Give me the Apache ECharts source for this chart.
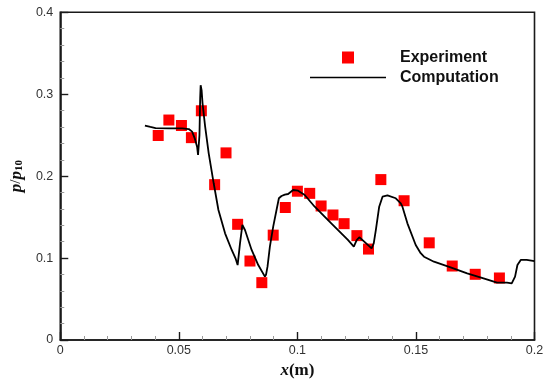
<!DOCTYPE html>
<html>
<head>
<meta charset="utf-8">
<script src="https://cdn.jsdelivr.net/npm/echarts@6/dist/echarts.min.js"></script>
<style>html,body{margin:0;padding:0;background:#fff;}#c{width:550px;height:391px;}</style>
</head>
<body>
<div id="c"></div>
<script>
// Experiment (squares)
var expX = [0.0413, 0.0458, 0.0511, 0.0553, 0.0595, 0.0651, 0.0699, 0.0748, 0.0800, 0.0850, 0.0898, 0.0949, 0.1000, 0.1052, 0.1100, 0.1150, 0.1197, 0.1251, 0.1300, 0.1352, 0.1450, 0.1556, 0.1653, 0.1750, 0.1852];
var expY = [0.2496, 0.2685, 0.2618, 0.2470, 0.2798, 0.1896, 0.2284, 0.1412, 0.0964, 0.0700, 0.1280, 0.1617, 0.1816, 0.1790, 0.1636, 0.1526, 0.1420, 0.1274, 0.1110, 0.1958, 0.1700, 0.1186, 0.0903, 0.0802, 0.0757];
// Computation (line)
var compX = [0.0357, 0.0380, 0.0402, 0.0460, 0.0514, 0.0542, 0.0556, 0.0563, 0.0567, 0.0577, 0.0581, 0.0584, 0.0587, 0.0590, 0.0592, 0.0596, 0.0600, 0.0611, 0.0626, 0.0647, 0.0667, 0.0695, 0.0723, 0.0740, 0.0748, 0.0752, 0.0758, 0.0768, 0.0779, 0.0807, 0.0835, 0.0863, 0.0868, 0.0874, 0.0884, 0.0898, 0.0912, 0.0922, 0.0933, 0.0947, 0.0961, 0.0982, 0.1003, 0.1031, 0.1073, 0.1143, 0.1213, 0.1238, 0.1250, 0.1261, 0.1282, 0.1313, 0.1322, 0.1331, 0.1345, 0.1359, 0.1380, 0.1415, 0.1436, 0.1443, 0.1464, 0.1499, 0.1520, 0.1534, 0.1576, 0.1646, 0.1716, 0.1785, 0.1842, 0.1884, 0.1904, 0.1918, 0.1928, 0.1942, 0.1967, 0.2000];
var compY = [0.2616, 0.2600, 0.2586, 0.2584, 0.2584, 0.2575, 0.2543, 0.2523, 0.2462, 0.2360, 0.2258, 0.2246, 0.2500, 0.2950, 0.3110, 0.3050, 0.2889, 0.2604, 0.2279, 0.1913, 0.1587, 0.1302, 0.1099, 0.0990, 0.0915, 0.0920, 0.1180, 0.1404, 0.1343, 0.1099, 0.0915, 0.0773, 0.0800, 0.0895, 0.1139, 0.1383, 0.1587, 0.1730, 0.1758, 0.1775, 0.1782, 0.1831, 0.1823, 0.1770, 0.1627, 0.1424, 0.1221, 0.1139, 0.1220, 0.1254, 0.1200, 0.1119, 0.1180, 0.1343, 0.1627, 0.1749, 0.1766, 0.1730, 0.1668, 0.1627, 0.1424, 0.1160, 0.1060, 0.1017, 0.0956, 0.0887, 0.0814, 0.0753, 0.0700, 0.0700, 0.0692, 0.0773, 0.0915, 0.0977, 0.0977, 0.0964];
var xTicks = [0, 0.05, 0.1, 0.15, 0.2];
var yTicks = [0, 0.1, 0.2, 0.3, 0.4];

var expData = expX.map(function (x, i) { return [x, expY[i]]; });
var compData = compX.map(function (x, i) { return [x, compY[i]]; });

var chart = echarts.init(document.getElementById('c'), null, {renderer: 'canvas'});
var axisCommon = {
  axisLine: {show: true, lineStyle: {color: '#1a1a1a', width: 1.6}},
  axisTick: {show: true, inside: true, length: 8, lineStyle: {color: '#1a1a1a', width: 1.4}},
  minorTick: {show: true, splitNumber: 5, length: 4, lineStyle: {color: '#9a9a9a', width: 1}},
  splitLine: {show: false},
  axisLabel: {color: '#333', fontFamily: 'Liberation Sans', fontSize: 12.5}
};
chart.setOption({
  animation: false,
  backgroundColor: '#fff',
  grid: {left: 57.5, right: 15.5, top: 12.3, bottom: 51, show: true, borderColor: '#1a1a1a', borderWidth: 1.6, containLabel: false},
  legend: [{
    orient: 'vertical', left: 305, top: 42.5, itemWidth: 76, itemHeight: 12, itemGap: 0,
    symbolKeepAspect: true,
    textStyle: {fontFamily: 'Liberation Sans', fontWeight: 'bold', fontSize: 16, color: '#111', lineHeight: 20, padding: [0, 0, 0, 9]},
    data: [
      {name: 'Experiment', icon: 'path://M0,0h10v10h-10z', itemStyle: {color: '#f00', opacity: 1}},
      {name: 'Computation', icon: 'path://M0,0h76v1.6h-76z'}
    ]
  }],
  xAxis: Object.assign({}, axisCommon, {
    type: 'value', min: xTicks[0], max: xTicks[xTicks.length - 1], interval: 0.05,
    axisLabel: Object.assign({}, axisCommon.axisLabel, {margin: 4}),
    name: '{i|x}{b|(m)}', nameLocation: 'middle', nameGap: 22,
    nameTextStyle: {rich: {
      i: {fontFamily: 'Liberation Serif', fontStyle: 'italic', fontWeight: 'bold', fontSize: 17, color: '#111'},
      b: {fontFamily: 'Liberation Serif', fontWeight: 'bold', fontSize: 17, color: '#111'}
    }}
  }),
  yAxis: Object.assign({}, axisCommon, {
    type: 'value', min: yTicks[0], max: yTicks[yTicks.length - 1], interval: 0.1,
    axisLabel: Object.assign({}, axisCommon.axisLabel, {margin: 7}),
    name: '{i|p}{s|/}{i|p}{sub|10}', nameLocation: 'middle', nameGap: 33, nameRotate: 90,
    nameTextStyle: {rich: {
      i: {fontFamily: 'Liberation Serif', fontStyle: 'italic', fontWeight: 'bold', fontSize: 17, color: '#111'},
      s: {fontFamily: 'Liberation Serif', fontWeight: 'normal', fontSize: 15, color: '#111'},
      sub: {fontFamily: 'Liberation Serif', fontWeight: 'bold', fontSize: 11, color: '#111', verticalAlign: 'bottom', padding: [6, 0, 0, 0]}
    }}
  }),
  series: [
    {name: 'Experiment', type: 'scatter', symbol: 'rect', symbolSize: 11, itemStyle: {color: '#f00', opacity: 1}, data: expData, z: 2},
    {name: 'Computation', type: 'line', showSymbol: false, symbol: 'none', lineStyle: {color: '#000', width: 1.8}, itemStyle: {color: '#000'}, data: compData, z: 3}
  ]
});
</script>
</body>
</html>
